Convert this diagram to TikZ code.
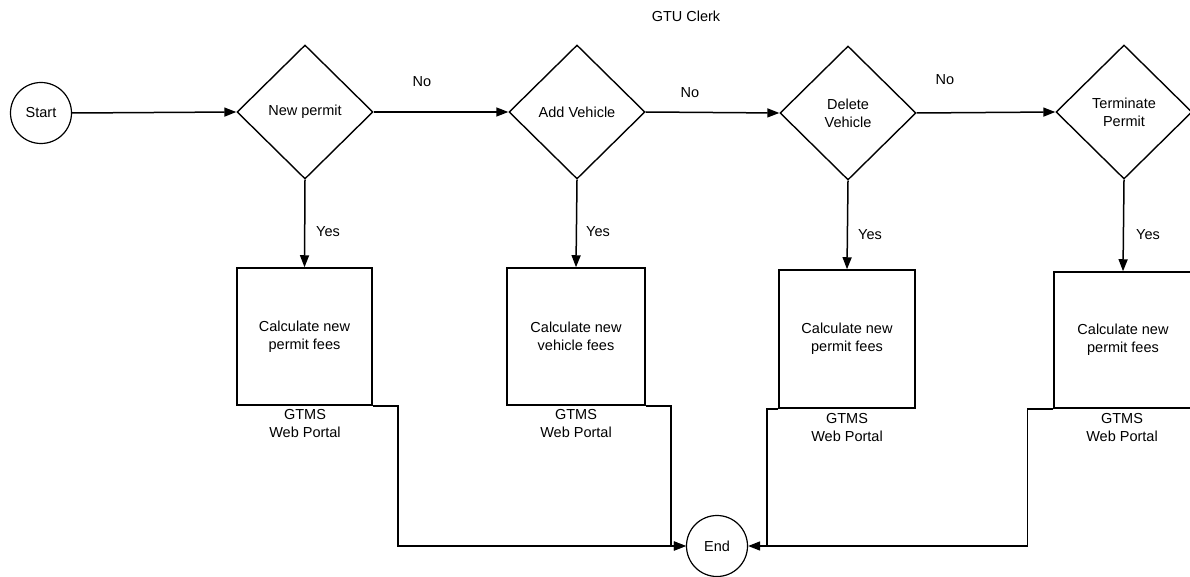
\documentclass[tikz,border=0pt]{standalone}
\usepackage{fontspec}
\setmainfont{Liberation Sans}
\usetikzlibrary{shapes.geometric,arrows.meta}
\begin{document}
\begin{tikzpicture}[x=1pt,y=-1pt,
  every node/.style={font=\fontsize{14.5}{18}\selectfont, align=center},
  ln/.style={line width=1.5pt, black},
  arr/.style={ln, -{Triangle[length=12pt,width=9pt]}},
  dec/.style={diamond, draw, line width=1.4pt, minimum width=136pt, minimum height=134pt, inner sep=0pt},
  proc/.style={rectangle, draw, line width=1.5pt, inner sep=0pt},
  term/.style={circle, draw, line width=1.2pt, minimum size=61pt, inner sep=0pt},
  lbl/.style={inner sep=0pt}]
\useasboundingbox (0,0) rectangle (1190,577);
\clip (0,0) rectangle (1190,577);

\node[lbl] (title) at (686,16) {GTU Clerk};

\node[term] (start) at (41,113) {Start};
\node[term] (end) at (717,546) {End};

\node[dec] (d1) at (305,112) {New permit};
\node[dec] (d2) at (577,112) {Add Vehicle};
\node[dec] (d3) at (848,113) {Delete\\Vehicle};
\node[dec] (d4) at (1124,112) {Terminate\\Permit};

\node[proc, minimum width=135pt, minimum height=137pt] (b1) at (304.5,336.5) {Calculate new\\permit fees};
\node[proc, minimum width=138pt, minimum height=137pt] (b2) at (576,336.5) {Calculate new\\vehicle fees};
\node[proc, minimum width=136pt, minimum height=138pt] (b3) at (847,339) {Calculate new\\permit fees};
\node[proc, minimum width=138pt, minimum height=136pt] (b4) at (1123,340) {Calculate new\\permit fees};

\node[lbl] (g1) at (305,424) {GTMS\\Web Portal};
\node[lbl] (g2) at (576,424) {GTMS\\Web Portal};
\node[lbl] (g3) at (847,428) {GTMS\\Web Portal};
\node[lbl] (g4) at (1122,428) {GTMS\\Web Portal};

% decision chain
\draw[arr] (start.east) -- (d1.west);
\draw[arr] (d1.east) -- (d2.west);
\draw[arr] (d2.east) -- (d3.west);
\draw[arr] (d3.east) -- (d4.west);
\node[lbl] (no1) at (422,82) {No};
\node[lbl] (no2) at (690,93) {No};
\node[lbl] (no3) at (945,80) {No};

% yes branches
\draw[arr] (d1.south) -- (b1.north);
\draw[arr] (d2.south) -- (b2.north);
\draw[arr] (d3.south) -- (b3.north);
\draw[arr] (d4.south) -- (b4.north);
\node[lbl] (y1) at (328,232) {Yes};
\node[lbl] (y2) at (598,232) {Yes};
\node[lbl] (y3) at (870,235) {Yes};
\node[lbl] (y4) at (1148,235) {Yes};

% portal lanes to End
\coordinate (j3) at (767,546);
\draw[arr] (b1.south east) -- ++(25,0) |- (end.west);
\draw[arr] (b2.south east) -- ++(25,0) |- (end.west);
\draw[arr] (b3.south west) -- (j3 |- b3.south west) -- (j3) -- (end.east);
\draw[ln] (b4.south west) -- ++(-26,0) |- (j3);
\end{tikzpicture}
\end{document}
